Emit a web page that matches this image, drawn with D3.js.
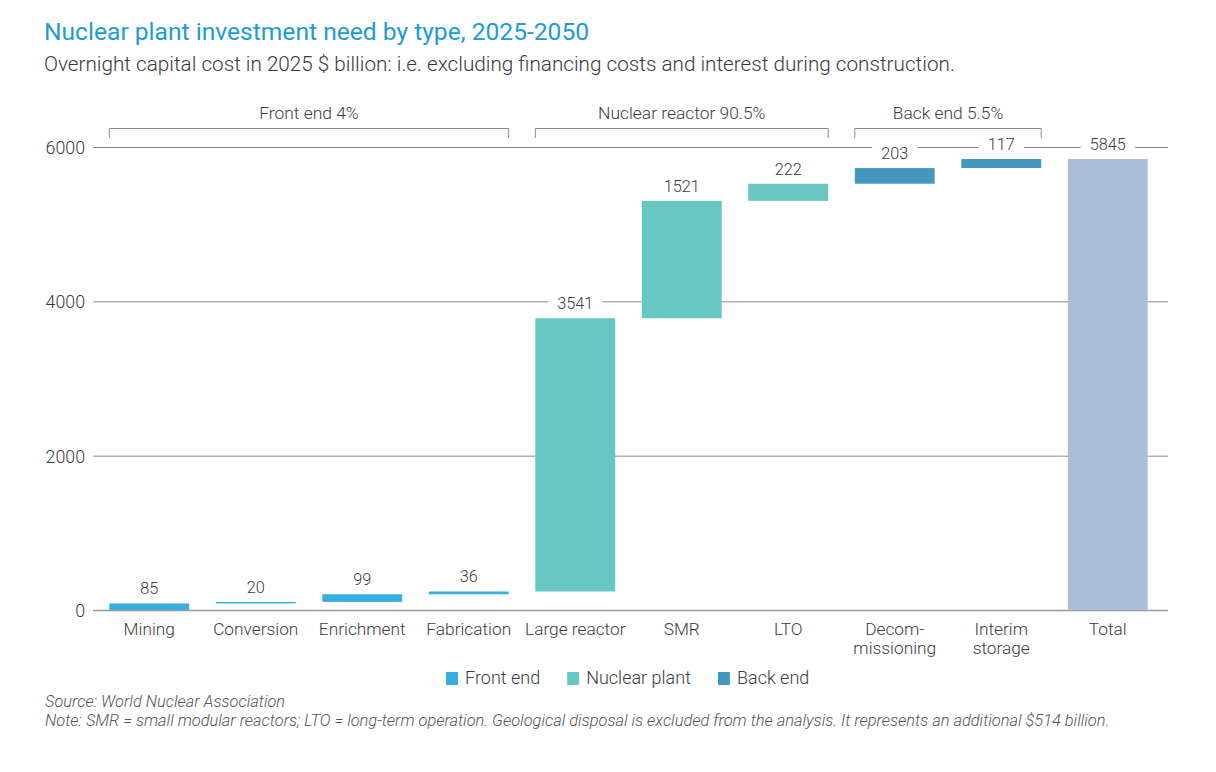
<!DOCTYPE html>
<html>
<head>
<meta charset="utf-8">
<script src="https://cdn.jsdelivr.net/npm/d3@7"></script>
<style>
  body { margin: 0; background: #fff; }
  text { font-family: Roboto, "Liberation Sans", sans-serif; font-weight: 300; fill: #3c3c3c; }
</style>
</head>
<body>
<svg id="chart" width="1216" height="772"></svg>
<script>
// data
const categories = ["Mining", "Conversion", "Enrichment", "Fabrication", "Large reactor", "SMR", "LTO", "Decom-\nmissioning", "Interim\nstorage", "Total"]
const values = [85, 20, 99, 36, 3541, 1521, 222, 203, 117, 5845]
const groups = ["front", "front", "front", "front", "plant", "plant", "plant", "back", "back", "total"]
const yTicks = [0, 2000, 4000, 6000]
const brackets = [
  {label: "Front end 4%", from: 0, to: 3},
  {label: "Nuclear reactor 90.5%", from: 4, to: 6},
  {label: "Back end 5.5%", from: 7, to: 8}
]
const legendItems = [["front", "Front end"], ["plant", "Nuclear plant"], ["back", "Back end"]]

const colors = {front: "#36aee0", plant: "#68c6c3", back: "#4498bd", total: "#a9bfd7"}

const width = 1216, height = 772
const padding = {left: 96, right: 55, top: 147, bottom: 162}
const svg = d3.select("#chart")

// waterfall starts/ends
let run = 0
const bars = categories.map(function(c, i) {
  let start, end
  if (groups[i] === "total") { start = 0; end = values[i] }
  else { start = run; end = run + values[i]; run = end }
  return {cat: c, value: values[i], group: groups[i], start: start, end: end}
})

const xScale = d3.scaleBand()
  .domain(categories)
  .range([padding.left, width - padding.right])
  .paddingInner(0.25)
  .paddingOuter(0.125)

const yScale = d3.scaleLinear()
  .domain([0, 6000])
  .range([height - padding.bottom, padding.top])

// title
svg.append("text").attr("x", 44).attr("y", 40)
  .style("font-size", "24.6px").style("font-weight", 400).style("fill", "#1c9bd6")
  .text("Nuclear plant investment need by type, 2025-2050")
svg.append("text").attr("x", 44).attr("y", 71)
  .style("font-size", "20.7px").style("fill", "#3a3a3a")
  .text("Overnight capital cost in 2025 $ billion: i.e. excluding financing costs and interest during construction.")

// gridlines + y labels
const yAxis = svg.append("g").attr("class", "axis")
  .attr("transform", "translate(" + (width - padding.right + 7) + ",0)")
  .call(d3.axisLeft(yScale).tickValues(yTicks).tickSize(width - padding.right + 7 - 93).tickFormat(d3.format("d")))
yAxis.select(".domain").remove()
yAxis.selectAll(".tick line").attr("stroke", "#8c8c8c").attr("stroke-width", 1)
yAxis.selectAll(".tick text").attr("x", -(width - padding.right + 7 - 85)).attr("dy", "0.36em")
  .style("font-size", "17.8px").style("font-family", "Roboto, sans-serif").style("fill", "#3c3c3c")
yAxis.selectAll(".tick").filter(d => d === 0).select("line").attr("stroke", "#999").attr("stroke-width", 1.5)

// bars
svg.append("g").selectAll("rect").data(bars).enter().append("rect")
  .attr("x", d => xScale(d.cat))
  .attr("width", xScale.bandwidth())
  .attr("y", d => yScale(d.end))
  .attr("height", d => Math.max(1, yScale(d.start) - yScale(d.end)))
  .attr("fill", d => colors[d.group])

// value labels with white backing
const lab = svg.append("g").selectAll("g").data(bars).enter().append("g")
  .attr("transform", d => "translate(" + (xScale(d.cat) + xScale.bandwidth() / 2) + "," + (yScale(d.end) - 9) + ")")
lab.each(function(d) {
  const g = d3.select(this)
  const t = g.append("text").attr("text-anchor", "middle")
    .style("font-size", "16.3px").text(d.value)
  const bb = t.node().getBBox()
  g.insert("rect", "text").attr("x", bb.x - 9).attr("y", bb.y - 2)
    .attr("width", bb.width + 18).attr("height", bb.height + 4).attr("fill", "#fff")
})

// x labels
const xl = svg.append("g").selectAll("text").data(categories).enter().append("text")
  .attr("text-anchor", "middle")
  .attr("x", d => xScale(d) + xScale.bandwidth() / 2)
  .attr("y", height - padding.bottom + 25)
  .style("font-size", "17.3px")
xl.each(function(d) {
  const parts = d.split("\n")
  d3.select(this).selectAll("tspan").data(parts).enter().append("tspan")
    .attr("x", d3.select(this).attr("x"))
    .attr("dy", (p, i) => i === 0 ? 0 : "1.12em")
    .text(p => p)
})

// group brackets
const bg = svg.append("g").selectAll("g").data(brackets).enter().append("g")
bg.append("path")
  .attr("fill", "none").attr("stroke", "#8c8c8c").attr("stroke-width", 1)
  .attr("d", function(d) {
    const x0 = xScale(categories[d.from]), x1 = xScale(categories[d.to]) + xScale.bandwidth()
    return "M" + x0 + ",138V128.5H" + x1 + "V138"
  })
bg.append("text").attr("text-anchor", "middle")
  .attr("x", d => (xScale(categories[d.from]) + xScale(categories[d.to]) + xScale.bandwidth()) / 2)
  .attr("y", 119)
  .style("font-size", "17.4px")
  .text(d => d.label)

// legend
const legend = svg.append("g").attr("transform", "translate(446,678)")
let lx = 0
legendItems.forEach(function(it) {
  const g = legend.append("g").attr("transform", "translate(" + lx + ",0)")
  g.append("rect").attr("x", 0).attr("y", -6).attr("width", 12).attr("height", 13).attr("fill", colors[it[0]])
  const t = g.append("text").attr("x", 19).attr("dy", "0.36em").style("font-size", "18px").text(it[1])
  lx += 19 + t.node().getComputedTextLength() + 27
})

// notes
svg.append("text").attr("x", 45).attr("y", 707)
  .style("font-size", "16.4px").style("font-style", "italic").style("fill", "#555")
  .text("Source: World Nuclear Association")
svg.append("text").attr("x", 45).attr("y", 726)
  .style("font-size", "16.4px").style("font-style", "italic").style("fill", "#555")
  .text("Note: SMR = small modular reactors; LTO = long-term operation. Geological disposal is excluded from the analysis. It represents an additional $514 billion.")
</script>
</body>
</html>
